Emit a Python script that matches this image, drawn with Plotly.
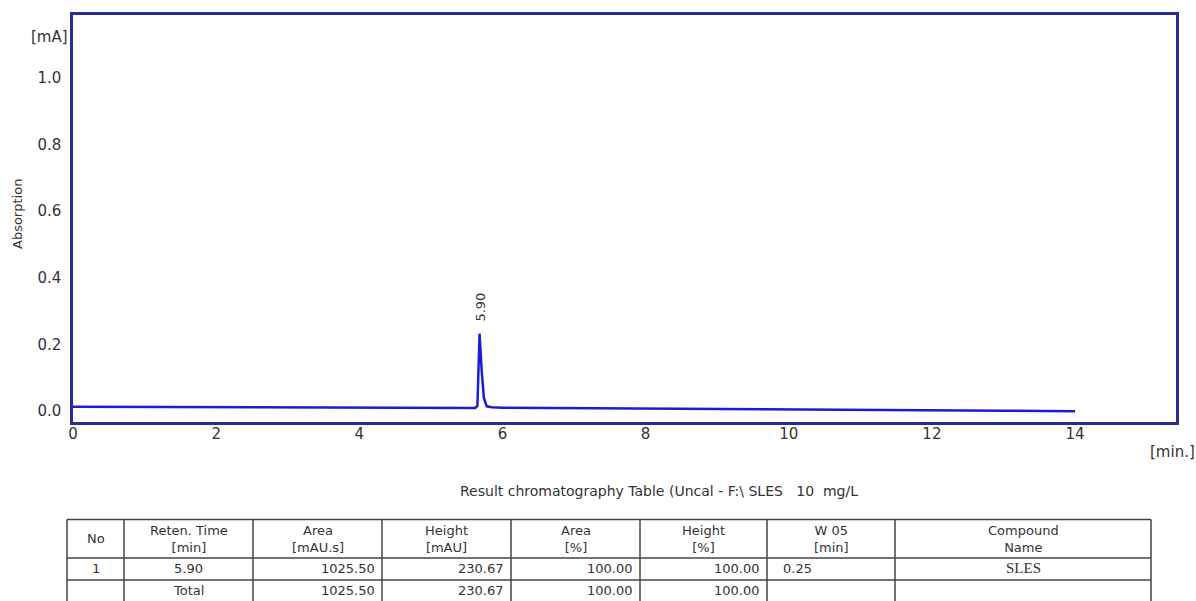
import plotly.graph_objects as go

# ---- chromatogram data ----
time_min = [0.0, 1.0, 2.0, 3.0, 4.0, 5.0, 5.5, 5.62, 5.65, 5.68, 5.71, 5.74, 5.78, 5.85, 6.0,
            7.0, 8.0, 9.0, 10.0, 11.0, 12.0, 13.0, 14.0]
absorption = [0.013, 0.012, 0.011, 0.010, 0.010, 0.009, 0.009, 0.009, 0.015, 0.232, 0.120, 0.040,
              0.014, 0.011, 0.010, 0.009, 0.008, 0.007, 0.005, 0.004, 0.003, 0.001, -0.001]
peak_label = "5.90"
peak_time = 5.68
peak_label_y = 0.312

x_ticks = [0, 2, 4, 6, 8, 10, 12, 14]
y_ticks = [0.0, 0.2, 0.4, 0.6, 0.8, 1.0]

# ---- result table data ----
table_title = "Result chromatography Table (Uncal - F:\\ SLES &nbsp;&nbsp;10 &nbsp;mg/L"
col_headers = ["No", "Reten. Time<br>[min]", "Area<br>[mAU.s]", "Height<br>[mAU]",
               "Area<br>[%]", "Height<br>[%]", "W 05<br>[min]", "Compound<br>Name"]
row_peak = ["1", "5.90", "1025.50", "230.67", "100.00", "100.00", "0.25", "SLES"]
row_total = ["", "Total", "1025.50", "230.67", "100.00", "100.00", "", ""]
table_rows = [row_peak, row_total]

# ---- table style ----
col_widths = [57, 129, 129, 129, 129, 127, 128, 256]
col_align = ["center", "center", "right", "right", "right", "right", "left", "center"]
table_left = 67
row_edges = [519.5, 558, 580, 602]

W, H = 1196, 601
FRAME = "#2a2a9a"
TRACE = "#1c1cd6"
TXT = "#333333"
GRID = "#444444"
FONT = "DejaVu Sans"


def px(xp):
    return xp / W


def py(yp):
    return 1 - yp / H


fig = go.Figure()
fig.add_trace(go.Scatter(x=time_min, y=absorption, mode="lines",
                         line=dict(color=TRACE, width=2.5), hoverinfo="skip",
                         showlegend=False))

fig.add_annotation(x=peak_time, y=peak_label_y, xref="x", yref="y", text=peak_label,
                   textangle=-90, showarrow=False, xanchor="center", yanchor="middle",
                   font=dict(family=FONT, size=13, color=TXT))

fig.add_annotation(x=px(70), y=py(37), xref="paper", yref="paper", text="[mA]",
                   xanchor="right", yanchor="middle", showarrow=False,
                   font=dict(family=FONT, size=15, color=TXT))
fig.add_annotation(x=px(17), y=py(214), xref="paper", yref="paper", text="Absorption",
                   textangle=-90, xanchor="center", yanchor="middle", showarrow=False,
                   font=dict(family=FONT, size=13, color=TXT))
fig.add_annotation(x=px(1197), y=py(452), xref="paper", yref="paper", text="[min.]",
                   xanchor="right", yanchor="middle", showarrow=False,
                   font=dict(family=FONT, size=15, color=TXT))
fig.add_annotation(x=px(659), y=py(491), xref="paper", yref="paper", text=table_title,
                   xanchor="center", yanchor="middle", showarrow=False,
                   font=dict(family=FONT, size=14, color=TXT))

# ---- table grid ----
col_edges = [table_left]
for w in col_widths:
    col_edges.append(col_edges[-1] + w)
shapes = []
for ye in row_edges:
    shapes.append(dict(type="line", xref="paper", yref="paper",
                       x0=px(col_edges[0]), x1=px(col_edges[-1]), y0=py(ye), y1=py(ye),
                       line=dict(color=GRID, width=1.5)))
for xe in col_edges:
    shapes.append(dict(type="line", xref="paper", yref="paper",
                       x0=px(xe), x1=px(xe), y0=py(row_edges[0]), y1=py(row_edges[-1]),
                       line=dict(color=GRID, width=1.5)))

# header texts
for i, h in enumerate(col_headers):
    xc = (col_edges[i] + col_edges[i + 1]) / 2
    yc = (row_edges[0] + row_edges[1]) / 2
    fig.add_annotation(x=px(xc), y=py(yc), xref="paper", yref="paper", text=h,
                       align="center", xanchor="center", yanchor="middle", showarrow=False,
                       font=dict(family=FONT, size=13, color=TXT))

# body texts
for r, row in enumerate(table_rows):
    yc = (row_edges[r + 1] + row_edges[r + 2]) / 2 - 1
    for i, val in enumerate(row):
        if not val:
            continue
        a = col_align[i]
        if a == "center":
            xx, anc = (col_edges[i] + col_edges[i + 1]) / 2, "center"
        elif a == "right":
            xx, anc = col_edges[i + 1] - 5, "right"
        else:
            xx, anc = col_edges[i] + 14, "left"
        fam = "Liberation Serif" if i == len(row) - 1 else FONT
        size = 15 if i == len(row) - 1 else 13
        fig.add_annotation(x=px(xx), y=py(yc), xref="paper", yref="paper", text=val,
                           xanchor=anc, yanchor="middle", showarrow=False,
                           font=dict(family=fam, size=size, color=TXT))

fig.update_layout(
    width=W, height=H,
    margin=dict(l=0, r=0, t=0, b=0),
    paper_bgcolor="white", plot_bgcolor="white",
    shapes=shapes,
    xaxis=dict(domain=[px(73), px(1176)], range=[0, 15.41], tickvals=x_ticks,
               showgrid=False, zeroline=False, showline=True, mirror=True,
               linecolor=FRAME, linewidth=2.5, ticks="", ticklabelstandoff=-3,
               tickfont=dict(family=FONT, size=15, color=TXT), automargin=False),
    yaxis=dict(domain=[py(421.5), py(15)], range=[-0.0315, 1.188],
               tickvals=y_ticks, tickformat=".1f",
               showgrid=False, zeroline=False, showline=True, mirror=True,
               linecolor=FRAME, linewidth=2.5, ticks="", ticklabelstandoff=6,
               tickfont=dict(family=FONT, size=15, color=TXT), automargin=False),
)

fig.write_html("out.html", config={"displayModeBar": False},
               post_script="document.body.style.margin='0px';")
